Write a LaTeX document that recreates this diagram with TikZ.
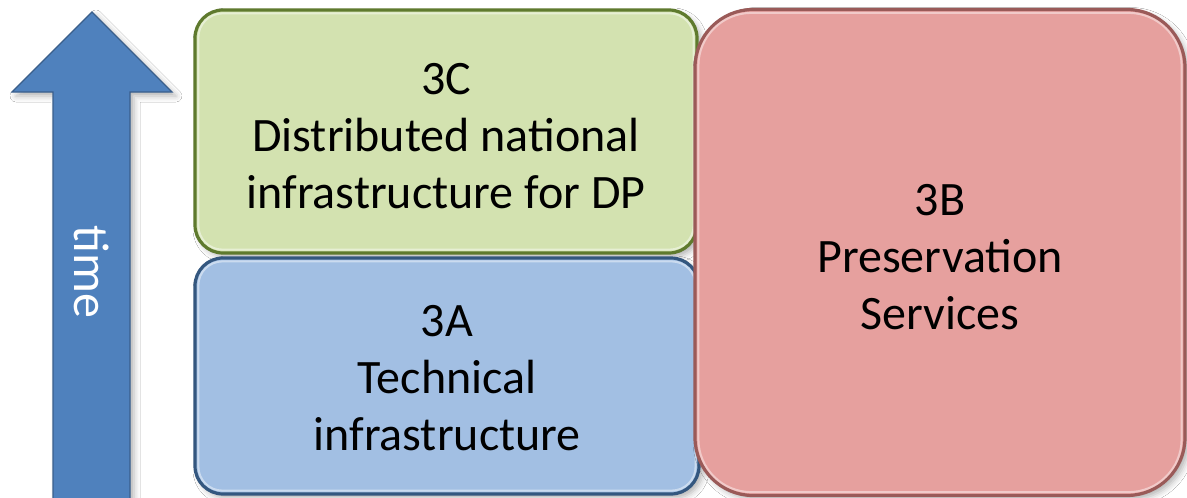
\documentclass[tikz,border=0pt]{standalone}
\usepackage{fontspec}
\setmainfont{Carlito}
\usetikzlibrary{shadows.blur}

\definecolor{greenfill}{HTML}{D3E2B0}
\definecolor{greenline}{HTML}{5F7A2E}
\definecolor{bluefill}{HTML}{A2BFE3}
\definecolor{blueline}{HTML}{34577F}
\definecolor{pinkfill}{HTML}{E6A09E}
\definecolor{pinkline}{HTML}{9A5A58}
\definecolor{arrowfill}{HTML}{4F81BD}
\definecolor{arrowline}{HTML}{3A5F8C}

\tikzset{
  softshadow/.style={blur shadow={shadow xshift=4pt, shadow yshift=-4pt,
      shadow blur radius=6pt, shadow opacity=30}},
  block/.style={draw, line width=3.2pt, rounded corners=28pt, softshadow,
      inner sep=0pt},
  blocktext/.style={align=center, font=\fontsize{48}{57}\selectfont,
      text=black},
  bevel/.style={draw=white, draw opacity=0.45, line width=2pt, fill=none},
}

\begin{document}
\begin{tikzpicture}[x=1pt,y=-1pt]
  \useasboundingbox (0,0) rectangle (1187,498);
  \fill[white] (0,0) rectangle (1187,498);

  % time arrow
  \begin{scope}
    \clip (0,0) rectangle (1187,498);
    \draw[fill=arrowfill, draw=arrowline, line width=1.2pt, softshadow]
      (53,520) -- (53,92) -- (12,92) -- (92,12) -- (172,92)
      -- (130,92) -- (130,520) -- cycle;
  \end{scope}
  \node[rotate=-90, text=white, font=\fontsize{50}{60}\selectfont]
    (time) at (92,272) {time};

  % 3C block
  \node[block, fill=greenfill, draw=greenline,
        minimum width=502pt, minimum height=243pt]
    (c3) at (446,131.5) {};
  \draw[bevel, rounded corners=24pt]
    ([xshift=5pt,yshift=-5pt]c3.north west) rectangle
    ([xshift=-5pt,yshift=5pt]c3.south east);
  \node[blocktext] (c3text) at (c3.center) [yshift=-5pt]
    {3C\\Distributed national\\infrastructure for DP};

  % 3A block
  \node[block, fill=bluefill, draw=blueline,
        minimum width=504pt, minimum height=236pt]
    (a3) at (447,376) {};
  \draw[bevel, rounded corners=24pt]
    ([xshift=5pt,yshift=-5pt]a3.north west) rectangle
    ([xshift=-5pt,yshift=5pt]a3.south east);
  \node[blocktext] (a3text) at (a3.center) [yshift=-2pt]
    {3A\\Technical\\infrastructure};

  % 3B block
  \node[block, fill=pinkfill, draw=pinkline, rounded corners=58pt,
        minimum width=490pt, minimum height=486pt]
    (b3) at (940,252.5) {};
  \draw[bevel, rounded corners=53pt]
    ([xshift=5pt,yshift=-5pt]b3.north west) rectangle
    ([xshift=-5pt,yshift=5pt]b3.south east);
  \node[blocktext] (b3text) at (b3.center) [yshift=-5pt]
    {3B\\Preservation\\Services};
\end{tikzpicture}
\end{document}
